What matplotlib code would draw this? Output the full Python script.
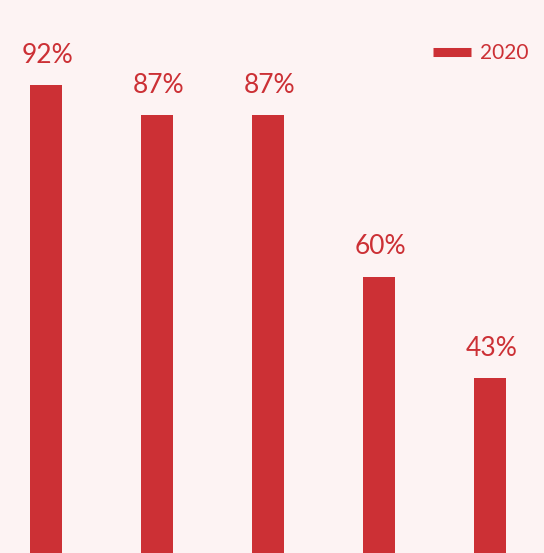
import matplotlib.pyplot as plt
from matplotlib.lines import Line2D

# datos
categorias = ["A", "B", "C", "D", "E"]
valores_2020 = [92, 87, 87, 60, 43]
etiquetas = ["92%", "87%", "87%", "60%", "43%"]
serie = "2020"

rojo = "#cc3035"
fondo = "#fdf3f3"
fuente = ["Lato", "DejaVu Sans"]

fig = plt.figure(figsize=(5.44, 5.53), dpi=100, facecolor=fondo)
ax = fig.add_axes([0, 0, 1, 1])
ax.set_facecolor(fondo)

x = list(range(len(categorias)))
ax.bar(x, valores_2020, width=0.288, color=rojo, zorder=2)

for xi, v, et in zip(x, valores_2020, etiquetas):
    ax.annotate(et, (xi, v), xytext=(1, 16), textcoords="offset points",
                ha="center", va="baseline", fontsize=19, color=rojo,
                family=fuente)

ax.set_xlim(-0.414, 4.486)
ax.set_ylim(13.7, 106.3)
ax.axis("off")

handle = Line2D([], [], color=rojo, linewidth=6.5, solid_capstyle="butt")
ley = ax.legend([handle], [serie], loc="upper right", frameon=False,
                bbox_to_anchor=(0.972, 0.922), handlelength=1.8, handletextpad=0.45,
                borderpad=0, borderaxespad=0, prop={"family": fuente, "size": 15})
for t in ley.get_texts():
    t.set_color(rojo)

fig.savefig("out.png", dpi=100, facecolor=fondo)
